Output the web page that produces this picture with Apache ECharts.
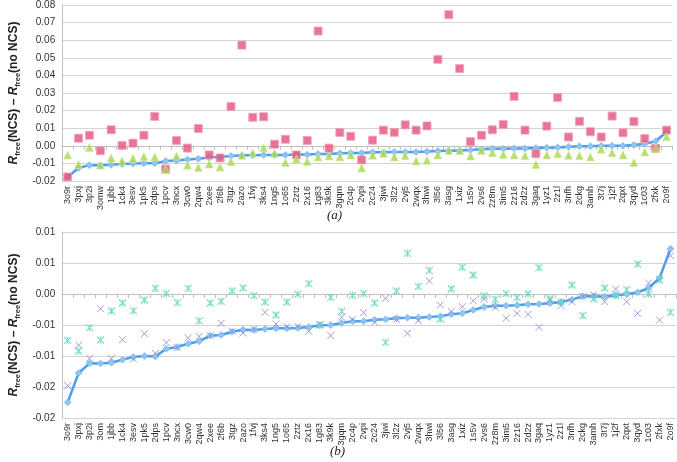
<!DOCTYPE html>
<html><head><meta charset="utf-8">
<script src="https://cdn.jsdelivr.net/npm/echarts@6/dist/echarts.min.js"></script>
<style>html,body{margin:0;padding:0;background:#fff}#c{width:677px;height:462px}</style>
</head><body><div id="c"></div>
<script>
var catsA = ['3o9r','3pxj','3p2i','3omw','1jbb','1ck4','3esv','1pk5','2dps','1pcv','3ncx','3cw0','2qw4','2xee','2f6b','3tgz','2azo','1fvj','3ks4','1ng5','1o65','2ztz','2x16','1g83','3k9k','3gqm','2c4p','2vpi','2c24','3jwi','3l2z','2vj5','2wqx','3hwi','3l56','3asg','1xiz','1s5v','2vs6','2z8m','3im5','2z16','2d2z','3gaq','1yz1','2z1l','3nfh','2ckg','3amh','3t7j','1j2f','2qxt','3qyd','1c03','2fxk','2o9f'];
var catsB = ['3o9r','3pxj','3p2i','3om','1jbb','1ck4','3esv','1pk5','2dps','1pcv','3ncx','3cw0','2qw4','2xee','2f6b','3tgz','2azo','1fvj','3ks4','1ng5','1o65','2ztz','2x16','1g83','3k9k','3gqm','2c4p','2vpi','2c24','3jwi','3l2z','2vj5','2wqx','3hwi','3l56','3asg','1xiz','1s5v','2vs6','2z8m','3im5','2z16','2d2z','3gaq','1yz1','2z1l','3nfh','2ckg','3amh','3t7j','1j2f','2qxt','3qyd','1c03','2fxk','2o9f'];

var lineA = [-0.0177,-0.0126,-0.011,-0.011,-0.0108,-0.0104,-0.01,-0.0099,-0.0099,-0.0087,-0.0084,-0.0078,-0.0074,-0.0067,-0.0063,-0.0058,-0.0054,-0.0054,-0.0052,-0.0052,-0.0052,-0.005,-0.005,-0.0046,-0.0046,-0.0043,-0.0041,-0.0041,-0.0037,-0.0037,-0.0035,-0.0035,-0.0035,-0.0033,-0.003,-0.0028,-0.0026,-0.0024,-0.0019,-0.0017,-0.0017,-0.0015,-0.0015,-0.0013,-0.0011,-0.0009,-0.0006,-0.0002,-0.0002,0,0,0,0.0004,0.0011,0.0026,0.0078];
var squaresA = [-0.0177,0.0043,0.006,-0.0028,0.0091,0.0002,0.0015,0.006,0.0167,-0.0132,0.003,-0.0013,0.0098,-0.0052,-0.0069,0.0223,0.0572,0.0162,0.0165,0.0009,0.0037,-0.0052,0.003,0.0652,-0.0013,0.0076,0.0054,-0.008,0.0032,0.0089,0.0076,0.0119,0.0089,0.0113,0.0491,0.0745,0.0439,0.0024,0.006,0.0091,0.0121,0.0281,0.0089,-0.0045,0.0112,0.0275,0.005,0.0139,0.008,0.005,0.0169,0.0074,0.0138,0.0041,-0.0015,0.0089];
var trianglesA = [-0.0052,-0.0106,-0.0009,-0.011,-0.0069,-0.0087,-0.0072,-0.0061,-0.0063,-0.0134,-0.0058,-0.011,-0.0123,-0.0104,-0.0121,-0.0089,-0.0054,-0.0041,-0.0011,-0.0043,-0.0095,-0.0076,-0.0089,-0.0063,-0.0058,-0.0063,-0.0052,-0.0126,-0.0054,-0.0043,-0.0063,-0.0056,-0.0087,-0.0082,-0.0052,-0.0026,-0.0026,-0.0058,-0.0026,-0.0039,-0.005,-0.0052,-0.0056,-0.0106,-0.0052,-0.0045,-0.0054,-0.0056,-0.0063,-0.0019,-0.0039,-0.0052,-0.0095,-0.0035,-0.0013,0.0052];

var lineB = [-0.01747,-0.01274,-0.01118,-0.0112,-0.0111,-0.01059,-0.01016,-0.01,-0.0101,-0.00882,-0.00855,-0.00801,-0.00763,-0.00672,-0.00661,-0.00608,-0.00575,-0.0058,-0.00565,-0.00554,-0.00554,-0.00548,-0.00532,-0.00505,-0.005,-0.00468,-0.00441,-0.00441,-0.00414,-0.00409,-0.00392,-0.00382,-0.00382,-0.00371,-0.0036,-0.00328,-0.00312,-0.00258,-0.0021,-0.00188,-0.00188,-0.00183,-0.00167,-0.00161,-0.0015,-0.00129,-0.00091,-0.00038,-0.00038,-0.00043,-0.00022,-0.00005,0.00027,0.00097,0.00258,0.00731];
var crossesB = [-0.01478,-0.00823,-0.01038,-0.00237,-0.01038,-0.00737,-0.01048,-0.0064,-0.00957,-0.00785,-0.0086,-0.0071,-0.00683,-0.00672,-0.00473,-0.00602,-0.00629,-0.0057,-0.00296,-0.00484,-0.00527,-0.00522,-0.00602,-0.00489,-0.00672,-0.00376,-0.00414,-0.00301,-0.00457,-0.0007,-0.00409,-0.00634,-0.0043,0.0021,-0.00177,-0.0028,-0.00204,-0.00108,-0.00081,-0.00215,-0.00392,-0.00312,-0.00328,-0.00538,-0.001,-0.00188,-0.00124,-0.00038,-0.00016,-0.00124,0.0008,-0.00124,-0.00312,0.00177,-0.0042,0.00618];
var starsB = [-0.00747,-0.00919,-0.00543,-0.00742,-0.00274,-0.00145,-0.00269,-0.00097,0.00091,0.00005,-0.0014,0.00091,-0.0043,-0.00145,-0.00118,0.00048,0.00097,-0.00027,-0.00129,-0.00339,-0.00129,-0.00005,0.00167,-0.005,-0.00054,-0.0028,-0.00022,0.00005,-0.00145,-0.0078,0.00048,0.00656,0.00124,0.00382,-0.00403,0.00081,0.0043,0.00306,-0.00032,-0.00086,0.00005,-0.00059,0,0.00425,-0.00075,-0.0013,0.00145,-0.0035,-0.0008,0.00097,-0.0002,0.0007,0.00484,0,0.00226,-0.00296];

var ticksB = ['-0.02','-0.02','-0.01','-0.01','0.00','0.01','0.01'];

var chart = echarts.init(document.getElementById('c'), null, {renderer: 'canvas'});
var FONT = 'Liberation Sans';
var yName = '{i|R}{s|free}{b|(NCS) \u2013 }{i|R}{s|free}{b|(no NCS)}';
var nameRich = {
  i: {fontFamily: FONT, fontSize: 12, fontWeight: 'bold', fontStyle: 'italic', color: '#222', lineHeight: 15},
  b: {fontFamily: FONT, fontSize: 12, fontWeight: 'bold', color: '#222', lineHeight: 15},
  s: {fontFamily: FONT, fontSize: 7.5, fontWeight: 'bold', color: '#222', lineHeight: 15, verticalAlign: 'bottom'}
};
function xAxisCfg(idx, cats) {
  return {
    type: 'category', gridIndex: idx, data: cats, boundaryGap: true,
    axisLine: {show: true, lineStyle: {color: '#bfbfbf', width: 1}},
    axisTick: {show: true, length: 4, lineStyle: {color: '#bfbfbf'}},
    axisLabel: {rotate: 90, interval: 0, fontFamily: FONT, fontSize: 9, color: '#333', margin: 5},
    splitLine: {show: false}
  };
}
var CROSS = 'path://M0,0L10,10M10,0L0,10';
var STAR = 'path://M0,0L10,10M10,0L0,10M5,0L5,10';

var option = {
  animation: false,
  backgroundColor: '#ffffff',
  grid: [
    {left: 46, right: 5, top: 2, height: 179, containLabel: false},
    {left: 43, right: 1, top: 232, height: 186, containLabel: false}
  ],
  xAxis: [xAxisCfg(0, catsA), xAxisCfg(1, catsB)],
  yAxis: [
    {
      type: 'value', gridIndex: 0, min: -0.02, max: 0.08, interval: 0.01,
      axisLine: {show: true, lineStyle: {color: '#bfbfbf'}},
      axisTick: {show: false},
      axisLabel: {fontFamily: FONT, fontSize: 10, color: '#333', margin: 7, formatter: function (v) { return (Math.round(v * 100) / 100).toFixed(2); }},
      splitLine: {show: true, lineStyle: {color: '#d4d4d4', width: 1}},
      name: yName, nameLocation: 'middle', nameRotate: 90, nameGap: 36,
      nameTextStyle: {rich: nameRich}
    },
    {
      type: 'value', gridIndex: 1, min: -0.02, max: 0.01, interval: 0.005,
      axisLine: {show: true, lineStyle: {color: '#bfbfbf'}},
      axisTick: {show: false},
      axisLabel: {fontFamily: FONT, fontSize: 10, color: '#333', margin: 7, formatter: function (v) { var k = Math.round((v + 0.02) / 0.005); return ticksB[k]; }},
      splitLine: {show: true, lineStyle: {color: '#d4d4d4', width: 1}},
      name: yName, nameLocation: 'middle', nameRotate: 90, nameGap: 33,
      nameTextStyle: {rich: nameRich}
    }
  ],
  series: [
    {type: 'line', xAxisIndex: 0, yAxisIndex: 0, data: lineA, symbol: 'diamond', symbolSize: 7,
     lineStyle: {color: '#4f9ee8', width: 2.5}, itemStyle: {color: '#8cc4f2', borderColor: '#6aafec', borderWidth: 0.5}, z: 2},
    {type: 'scatter', xAxisIndex: 0, yAxisIndex: 0, data: squaresA, symbol: 'rect', symbolSize: 8,
     itemStyle: {color: '#e2537a', borderColor: '#f4a3b8', borderWidth: 1}, z: 3},
    {type: 'scatter', xAxisIndex: 0, yAxisIndex: 0, data: trianglesA, symbol: 'triangle', symbolSize: 8,
     itemStyle: {color: '#a8d64c', borderColor: '#d2ec9a', borderWidth: 0.8}, z: 4},
    {type: 'line', xAxisIndex: 1, yAxisIndex: 1, data: lineB, symbol: 'diamond', symbolSize: 7,
     lineStyle: {color: '#4f9ee8', width: 2.5}, itemStyle: {color: '#8cc4f2', borderColor: '#6aafec', borderWidth: 0.5}, z: 2},
    {type: 'scatter', xAxisIndex: 1, yAxisIndex: 1, data: crossesB, symbol: CROSS, symbolSize: 7,
     itemStyle: {color: 'rgba(0,0,0,0)', borderColor: '#8d7fd6', borderWidth: 1}, z: 3},
    {type: 'scatter', xAxisIndex: 1, yAxisIndex: 1, data: starsB, symbol: STAR, symbolSize: 7,
     itemStyle: {color: 'rgba(0,0,0,0)', borderColor: '#5fd6b8', borderWidth: 1.2}, z: 3}
  ],
  graphic: [
    {type: 'text', left: 327, top: 209, style: {text: '(a)', fontFamily: 'Liberation Serif', fontStyle: 'italic', fontSize: 13, fill: '#222'}},
    {type: 'text', left: 330, top: 445, style: {text: '(b)', fontFamily: 'Liberation Serif', fontStyle: 'italic', fontSize: 13, fill: '#222'}}
  ]
};
chart.setOption(option);
</script></body></html>
